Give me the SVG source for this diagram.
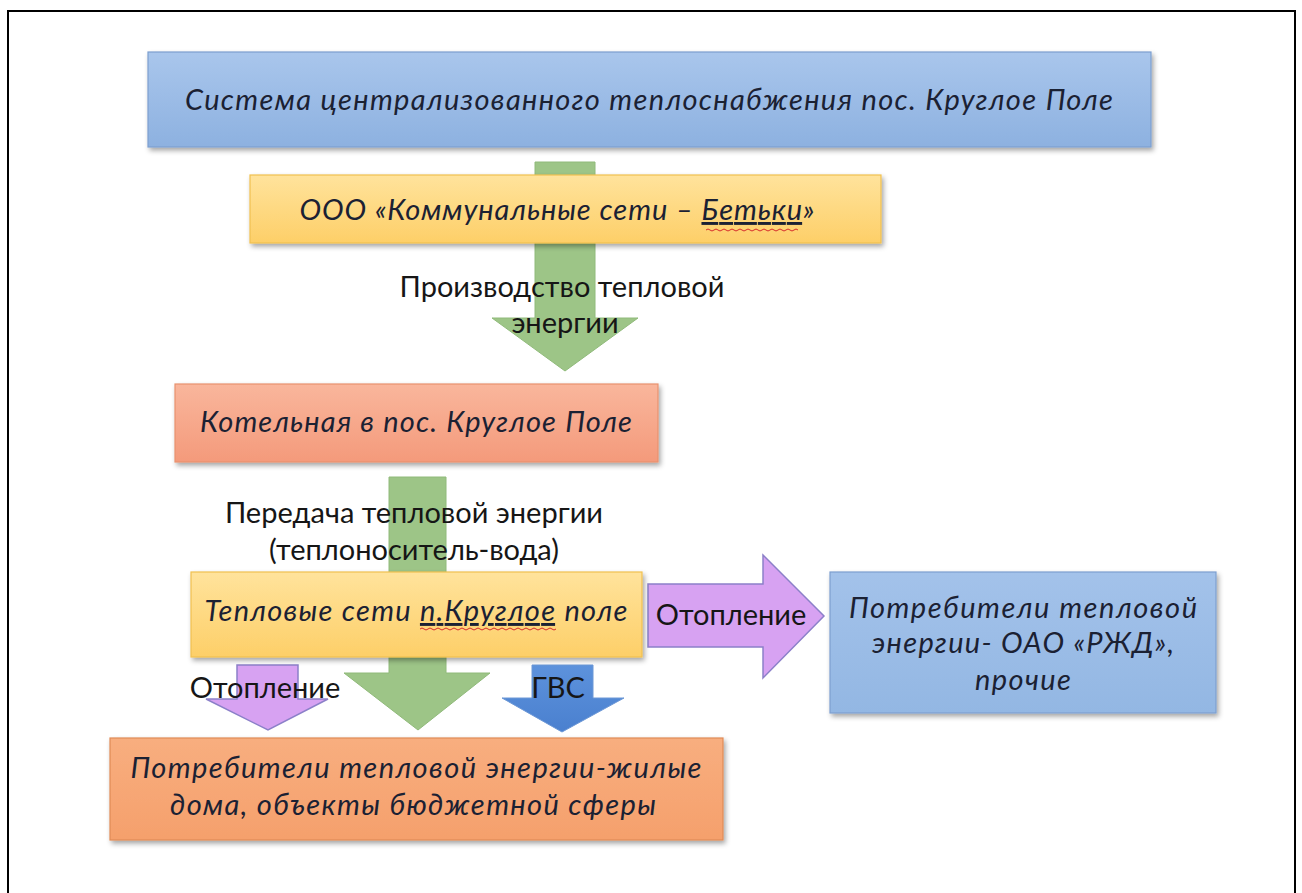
<svg xmlns="http://www.w3.org/2000/svg" width="1302" height="893" viewBox="0 0 1302 893">
<defs>
<linearGradient id="gBlue" x1="0" y1="0" x2="0" y2="1"><stop offset="0" stop-color="#a9c6ec"/><stop offset="1" stop-color="#8db1e0"/></linearGradient>
<linearGradient id="gBlue2" x1="0" y1="0" x2="0" y2="1"><stop offset="0" stop-color="#a3c2ea"/><stop offset="1" stop-color="#93b7e3"/></linearGradient>
<linearGradient id="gYellow" x1="0" y1="0" x2="0" y2="1"><stop offset="0" stop-color="#ffe39c"/><stop offset="1" stop-color="#fdcf68"/></linearGradient>
<linearGradient id="gSalmon" x1="0" y1="0" x2="0" y2="1"><stop offset="0" stop-color="#f9b69c"/><stop offset="1" stop-color="#f49a7b"/></linearGradient>
<linearGradient id="gOrange" x1="0" y1="0" x2="0" y2="1"><stop offset="0" stop-color="#f8ae7f"/><stop offset="1" stop-color="#f5a06c"/></linearGradient>
<linearGradient id="gBlueA" x1="0" y1="0" x2="0" y2="1"><stop offset="0" stop-color="#5d92dc"/><stop offset="1" stop-color="#4a80cf"/></linearGradient>
<filter id="sh" x="-5%" y="-10%" width="112%" height="135%"><feDropShadow dx="2" dy="3" stdDeviation="2.5" flood-color="#000" flood-opacity="0.35"/></filter>
<style>
.box{stroke-width:1.2;filter:url(#sh)}
.bt{font-family:Lato,"Open Sans","Liberation Sans",sans-serif;font-style:italic;font-size:29px;fill:#1b2133;text-anchor:middle}
.lb{font-family:Lato,"Open Sans","Liberation Sans",sans-serif;font-size:29px;fill:#161616;text-anchor:middle}
.green{fill:#9dc587;stroke:#90ba7a;stroke-width:1}
.purple{fill:#d7a2f2;stroke:#8c80c9;stroke-width:1.5}
.blueA{fill:url(#gBlueA);stroke:#6d98d6;stroke-width:1}
.wavy{fill:none;stroke:#d62c2c;stroke-width:1}
</style>
</defs>
<rect x="0" y="0" width="1302" height="893" fill="#fff"/>
<rect x="8" y="11" width="1287" height="900" fill="none" stroke="#000" stroke-width="2"/>

<g id="connectors">
<path class="green" d="M535,162 H595 V318 H638 L565,371 L492,318 H535 Z"/>
<path class="green" d="M389,477 H446 V673 H490 L418,730 L344,673 H389 Z"/>
<path class="purple" d="M648,584 H763 V555 L824,616 L763,678 V647 H648 Z"/>
<path class="purple" d="M237,665 H298 V699 H328 L268,730 L206,699 H237 Z"/>
<path class="blueA" d="M532,665 H593 V698 H624 L562,732 L502,698 H532 Z"/>
</g>

<g id="n1"><rect class="box" x="148" y="52" width="1003" height="95" fill="url(#gBlue)" stroke="#7d9fcf"/>
<text class="bt" x="649" y="110" textLength="928" lengthAdjust="spacing">Система централизованного теплоснабжения пос. Круглое Поле</text></g>

<g id="n2"><rect class="box" x="250" y="175" width="631" height="68" fill="url(#gYellow)" stroke="#f0c050"/>
<text class="bt" x="557" y="220" textLength="515" lengthAdjust="spacing">ООО «Коммунальные сети – <tspan text-decoration="underline">Бетьки</tspan>»</text>
<path class="wavy" d="M706,230 q2,-2 4,0 t4,0 t4,0 t4,0 t4,0 t4,0 t4,0 t4,0 t4,0 t4,0 t4,0 t4,0 t4,0 t4,0 t4,0 t4,0 t4,0 t4,0 t4,0 t4,0 t4,0 t4,0 t4,0"/></g>

<g id="l1"><text class="lb" x="562" y="297">Производство тепловой</text><text class="lb" x="565" y="333">энергии</text></g>

<g id="n3"><rect class="box" x="175" y="384" width="483" height="78" fill="url(#gSalmon)" stroke="#e8926f"/>
<text class="bt" x="416" y="432" textLength="432" lengthAdjust="spacing">Котельная в пос. Круглое Поле</text></g>

<g id="l2"><text class="lb" x="414" y="523">Передача тепловой энергии</text><text class="lb" x="414" y="560">(теплоноситель-вода)</text></g>

<g id="n4"><rect class="box" x="191" y="572" width="451" height="85" fill="url(#gYellow)" stroke="#f0c050"/>
<text class="bt" x="416" y="621" textLength="423" lengthAdjust="spacing">Тепловые сети <tspan text-decoration="underline">п.Круглое</tspan> поле</text>
<path class="wavy" d="M420,629 q2,-2 4,0 t4,0 t4,0 t4,0 t4,0 t4,0 t4,0 t4,0 t4,0 t4,0 t4,0 t4,0 t4,0 t4,0 t4,0 t4,0 t4,0 t4,0 t4,0 t4,0 t4,0 t4,0 t4,0 t4,0 t4,0 t4,0 t4,0 t4,0 t4,0 t4,0 t4,0 t4,0 t4,0 t4,0"/></g>

<g id="l3"><text class="lb" x="731" y="625">Отопление</text></g>

<g id="n5"><rect class="box" x="830" y="572" width="386" height="141" fill="url(#gBlue2)" stroke="#7d9fcf"/>
<text class="bt" x="1023" y="618" textLength="348" lengthAdjust="spacing">Потребители тепловой</text>
<text class="bt" x="1023" y="653" textLength="302" lengthAdjust="spacing">энергии- ОАО «РЖД»,</text>
<text class="bt" x="1023" y="690" textLength="96" lengthAdjust="spacing">прочие</text></g>

<g id="l4"><text class="lb" x="265" y="698">Отопление</text></g>
<g id="l5"><text class="lb" x="558" y="698">ГВС</text></g>

<g id="n6"><rect class="box" x="110" y="738" width="613" height="102" fill="url(#gOrange)" stroke="#e08a55"/>
<text class="bt" x="416" y="778" textLength="571" lengthAdjust="spacing">Потребители тепловой энергии-жилые</text>
<text class="bt" x="413" y="815" textLength="486" lengthAdjust="spacing">дома, объекты бюджетной сферы</text></g>
</svg>
